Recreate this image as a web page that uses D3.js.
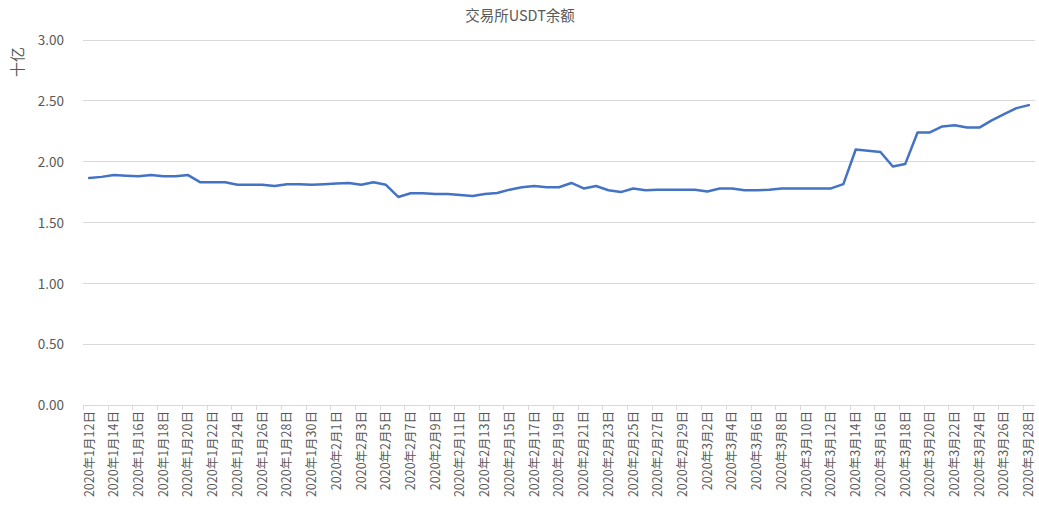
<!DOCTYPE html>
<html>
<head>
<meta charset="utf-8">
<script src="https://cdn.jsdelivr.net/npm/d3@7"></script>
<style>
  body { margin: 0; background: #fff; }
  svg { display: block; }
  text { font-family: "Noto Sans CJK SC", "DejaVu Sans", sans-serif; fill: #595959; }
</style>
</head>
<body>
<svg id="chart" width="1039" height="507"></svg>
<script>
const title = "交易所USDT余额";
const yAxisTitle = "十亿";
const startDate = "2020-01-12";
const values = [
  1.865, 1.875, 1.89, 1.885, 1.88, 1.89, 1.88, 1.88, 1.89, 1.83,
  1.83, 1.83, 1.81, 1.81, 1.81, 1.80, 1.815, 1.815, 1.81, 1.815,
  1.82, 1.825, 1.81, 1.83, 1.81, 1.71, 1.74, 1.74, 1.735, 1.735,
  1.726, 1.718, 1.734, 1.742, 1.77, 1.79, 1.80, 1.79, 1.79, 1.825,
  1.78, 1.80, 1.765, 1.75, 1.78, 1.765, 1.77, 1.77, 1.77, 1.77,
  1.755, 1.78, 1.78, 1.765, 1.765, 1.77, 1.78, 1.78, 1.78, 1.78,
  1.78, 1.815, 2.10, 2.09, 2.08, 1.96, 1.98, 2.24, 2.24, 2.29,
  2.30, 2.28, 2.28, 2.34, 2.39, 2.44, 2.465
];
const yTicks = [0, 0.5, 1.0, 1.5, 2.0, 2.5, 3.0];

// categories: daily dates
const parse = d3.timeParse("%Y-%m-%d");
const d0 = parse(startDate);
const categories = values.map((v, i) => {
  const d = d3.timeDay.offset(d0, i);
  return `${d.getFullYear()}年${d.getMonth() + 1}月${d.getDate()}日`;
});

const svg = d3.select("#chart");
const m = { left: 83, right: 1035, top: 40, bottom: 405 };

const x = d3.scaleBand().domain(categories).range([m.left, m.right]).padding(0);
const y = d3.scaleLinear().domain([0, 3]).range([m.bottom, m.top]);

// gridlines
svg.append("g").selectAll("line").data(yTicks.filter(t => t > 0)).join("line")
  .attr("x1", m.left).attr("x2", m.right)
  .attr("y1", d => y(d)).attr("y2", d => y(d))
  .attr("stroke", "#d9d9d9").attr("stroke-width", 1).attr("shape-rendering", "crispEdges");

// y axis labels
const yAxis = d3.axisLeft(y).tickValues(yTicks).tickFormat(d3.format(".2f")).tickSize(0).tickPadding(0);
const gy = svg.append("g").attr("transform", `translate(64,0)`).call(yAxis);
gy.select(".domain").remove();
gy.selectAll("text").style("font-size", "13.5px").attr("fill", "#595959").attr("dy", "0.35em");

// x axis line
svg.append("line").attr("x1", m.left).attr("x2", m.right)
  .attr("y1", m.bottom + 0.5).attr("y2", m.bottom + 0.5)
  .attr("stroke", "#d9d9d9");

// tick marks at category boundaries every 2
const tickCats = categories.filter((c, i) => i % 2 === 0);
svg.append("g").selectAll("line").data(tickCats).join("line")
  .attr("x1", d => Math.round(x(d)) + 0.5).attr("x2", d => Math.round(x(d)) + 0.5)
  .attr("y1", m.bottom).attr("y2", m.bottom + 5)
  .attr("stroke", "#d9d9d9");

// x labels
const xAxis = d3.axisBottom(x).tickValues(tickCats).tickSize(0).tickPadding(0);
const gx = svg.append("g").attr("transform", `translate(0,${m.bottom})`).call(xAxis);
gx.select(".domain").remove();
gx.selectAll("text")
  .style("font-size", "12.5px")
  .attr("fill", "#595959")
  .attr("text-anchor", "end")
  .attr("transform", "rotate(-90)")
  .attr("x", -6).attr("y", 0).attr("dy", "0.35em");

// line
const line = d3.line().x((d, i) => x(categories[i]) + x.bandwidth() / 2).y(d => y(d));
svg.append("path").datum(values)
  .attr("d", line).attr("fill", "none")
  .attr("stroke", "#4472C4").attr("stroke-width", 2.5)
  .attr("stroke-linejoin", "round").attr("stroke-linecap", "round");

// title
svg.append("text").attr("x", 520).attr("y", 21).attr("text-anchor", "middle")
  .style("font-size", "14.5px").text(title);

// y axis title
svg.append("text").attr("transform", "translate(23,62) rotate(-90)")
  .attr("text-anchor", "middle").style("font-size", "15px").text(yAxisTitle);
</script>
</body>
</html>
